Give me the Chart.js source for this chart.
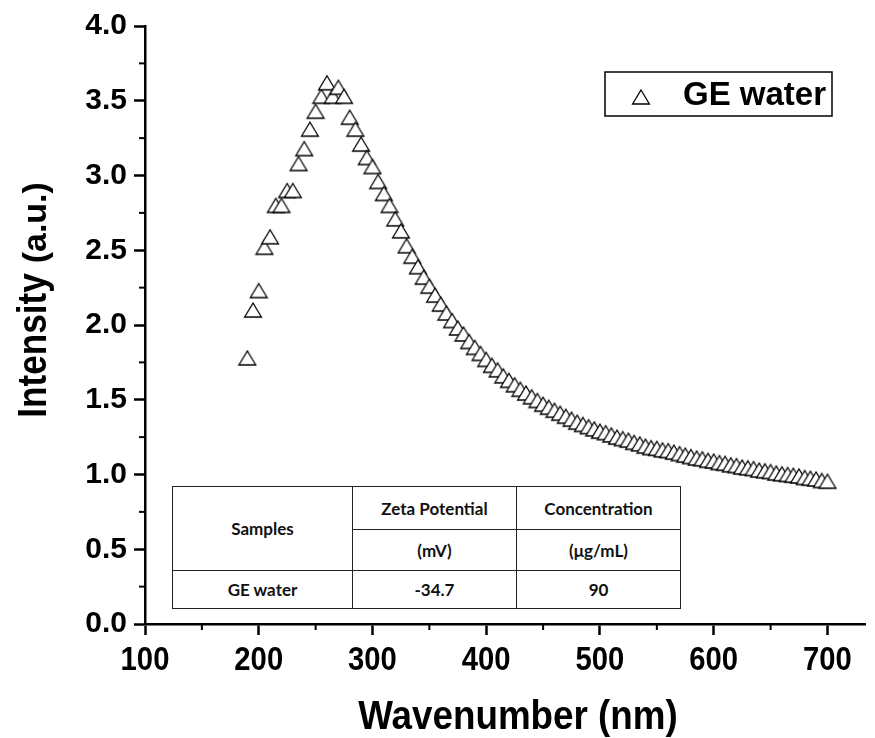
<!DOCTYPE html>
<html>
<head>
<meta charset="utf-8" />
<title>GE water</title>
<script src="https://cdn.jsdelivr.net/npm/chart.js@4.4.1/dist/chart.umd.min.js"></script>
<style>
  html, body { margin: 0; padding: 0; background: #fff; }
  #wrap { position: relative; width: 875px; height: 738px; }
  #zeta { position: absolute; left: 172px; top: 486px; width: 508px; height: 122px;
          border-collapse: collapse; background: #fff; table-layout: fixed;
          font-family: Lato, "Open Sans", sans-serif; font-weight: 700; font-size: 17px; color: #111; }
  #zeta td { border: 1.5px solid #222; text-align: center; padding: 0; }
</style>
</head>
<body>
<div id="wrap">
  <canvas id="chart" width="875" height="738"></canvas>
  <table id="zeta">
    <colgroup><col style="width:180px"><col style="width:164px"><col style="width:164px"></colgroup>
    <tr style="height:43px"><td rowspan="2" id="h0"></td><td id="h1"></td><td id="h2"></td></tr>
    <tr style="height:41px"><td id="u1"></td><td id="u2"></td></tr>
    <tr style="height:38px"><td id="r0"></td><td id="r1"></td><td id="r2"></td></tr>
  </table>
</div>
<script>
// data
var seriesName = 'GE water';
var wavenumber = [190,195,200,205,210,215,220,225,230,235,240,245,250,255,260,265,270,275,280,285,
  290,295,300,305,310,315,320,325,330,335,340,345,350,355,360,365,370,375,380,385,
  390,395,400,405,410,415,420,425,430,435,440,445,450,455,460,465,470,475,480,485,
  490,495,500,505,510,515,520,525,530,535,540,545,550,555,560,565,570,575,580,585,
  590,595,600,605,610,615,620,625,630,635,640,645,650,655,660,665,670,675,680,685,
  690,695,700];
var intensity = [1.78,2.10,2.23,2.52,2.59,2.80,2.80,2.90,2.90,3.08,3.18,3.31,3.43,3.53,3.62,3.53,3.59,3.53,3.39,3.31,
  3.21,3.12,3.06,2.96,2.88,2.80,2.71,2.63,2.53,2.46,2.39,2.32,2.26,2.20,2.14,2.08,2.03,1.98,1.94,1.89,
  1.85,1.81,1.77,1.73,1.70,1.66,1.63,1.60,1.57,1.545,1.52,1.495,1.47,1.45,1.43,1.41,1.39,1.37,1.35,1.335,
  1.32,1.305,1.29,1.28,1.265,1.25,1.24,1.23,1.215,1.205,1.19,1.18,1.175,1.165,1.16,1.15,1.14,1.13,1.12,1.11,
  1.105,1.095,1.09,1.08,1.075,1.065,1.06,1.05,1.045,1.04,1.03,1.025,1.02,1.01,1.005,1.0,0.995,0.99,0.98,0.975,
  0.97,0.96,0.955];
var xMajorTicks = [100,200,300,400,500,600,700];
var xMinorTicks = [150,250,350,450,550,650];
var yMinorTicks = [0.25,0.75,1.25,1.75,2.25,2.75,3.25,3.75];

var tableHeader = ['Samples', 'Zeta Potential', 'Concentration'];
var tableUnits = ['(mV)', '(\u03bcg/mL)'];
var tableRow = ['GE water', '-34.7', '90'];

document.getElementById('h0').textContent = tableHeader[0];
document.getElementById('h1').textContent = tableHeader[1];
document.getElementById('h2').textContent = tableHeader[2];
document.getElementById('u1').textContent = tableUnits[0];
document.getElementById('u2').textContent = tableUnits[1];
document.getElementById('r0').textContent = tableRow[0];
document.getElementById('r1').textContent = tableRow[1];
document.getElementById('r2').textContent = tableRow[2];

var points = wavenumber.map(function (w, i) { return { x: w, y: intensity[i] }; });

var wide = '"Liberation Sans", Arial, sans-serif';

// open triangle, box-centred like the Origin symbol
function makeTriangle() {
  var c = document.createElement('canvas');
  c.width = 20; c.height = 18;
  var g = c.getContext('2d');
  g.beginPath();
  g.moveTo(10, 2); g.lineTo(18.4, 16); g.lineTo(1.6, 16); g.closePath();
  g.fillStyle = '#fff'; g.fill();
  g.lineWidth = 1.3; g.strokeStyle = '#000'; g.stroke();
  return c;
}
var triangle = makeTriangle();

function squeezedText(ctx, text, x, y, sx, align) {
  ctx.save();
  ctx.translate(x, y);
  ctx.scale(sx, 1);
  ctx.textAlign = align;
  ctx.fillText(text, 0, 0);
  ctx.restore();
}

var extras = {
  id: 'extras',
  afterDraw: function (chart) {
    var ctx = chart.ctx;
    var xs = chart.scales.x, ys = chart.scales.y;
    ctx.save();
    ctx.strokeStyle = '#000';
    ctx.lineWidth = 2;
    // minor ticks
    xMinorTicks.forEach(function (v) {
      var px = xs.getPixelForValue(v);
      ctx.beginPath(); ctx.moveTo(px, xs.top); ctx.lineTo(px, xs.top + 6); ctx.stroke();
    });
    yMinorTicks.forEach(function (v) {
      var py = ys.getPixelForValue(v);
      ctx.beginPath(); ctx.moveTo(ys.right, py); ctx.lineTo(ys.right - 6, py); ctx.stroke();
    });

    // x tick labels (condensed bold)
    ctx.fillStyle = '#000';
    ctx.font = 'bold 34px ' + wide;
    ctx.textBaseline = 'alphabetic';
    xMajorTicks.forEach(function (v) {
      squeezedText(ctx, String(v), xs.getPixelForValue(v), 670, 0.86, 'center');
    });

    // legend
    ctx.lineWidth = 1.5;
    ctx.strokeRect(605, 72, 227, 44);
    ctx.drawImage(triangle, 631, 88);
    ctx.font = 'bold 33px ' + wide;
    ctx.textAlign = 'left';
    ctx.textBaseline = 'middle';
    ctx.fillText(seriesName, 683, 96);

    // x title
    ctx.font = 'bold 40px ' + wide;
    ctx.textBaseline = 'alphabetic';
    squeezedText(ctx, 'Wavenumber (nm)', 518, 729, 0.92, 'center');

    // y title
    ctx.translate(46, 300);
    ctx.rotate(-Math.PI / 2);
    ctx.textAlign = 'left';
    var f1 = 'bold 40px ' + wide, f2 = 'bold 34px ' + wide;
    ctx.font = f1; var w1 = ctx.measureText('Intensity ').width * 0.88;
    ctx.font = f2; var w2 = ctx.measureText('(a.u.)').width;
    var start = -(w1 + w2) / 2;
    ctx.font = f1; squeezedText(ctx, 'Intensity ', start, 0, 0.88, 'left');
    ctx.font = f2; ctx.fillText('(a.u.)', start + w1, 0);
    ctx.restore();
  }
};

new Chart(document.getElementById('chart'), {
  type: 'scatter',
  data: {
    datasets: [{
      label: seriesName,
      data: points,
      pointStyle: triangle,
      pointRadius: 9,
      showLine: false
    }]
  },
  options: {
    responsive: false,
    animation: false,
    layout: { padding: { top: 26, right: 5, left: 0, bottom: 0 } },
    plugins: { legend: { display: false }, tooltip: { enabled: false } },
    scales: {
      x: {
        type: 'linear', min: 100, max: 733,
        afterFit: function (s) { s.height = 114; },
        border: { color: '#000', width: 2.5 },
        grid: { drawOnChartArea: false, drawTicks: true, tickLength: 11, tickColor: '#000', tickWidth: 2.5, color: '#000' },
        ticks: { stepSize: 100, includeBounds: false, display: false }
      },
      y: {
        min: 0, max: 4,
        afterFit: function (s) { s.width = 145; },
        border: { color: '#000', width: 2.5 },
        grid: { drawOnChartArea: false, drawTicks: true, tickLength: 11, tickColor: '#000', tickWidth: 2.5, color: '#000' },
        ticks: { stepSize: 0.5, padding: 7, color: '#000',
                 font: { family: wide, size: 30, weight: 'bold' },
                 callback: function (v) { return v.toFixed(1); } }
      }
    }
  },
  plugins: [extras]
});
</script>
</body>
</html>
